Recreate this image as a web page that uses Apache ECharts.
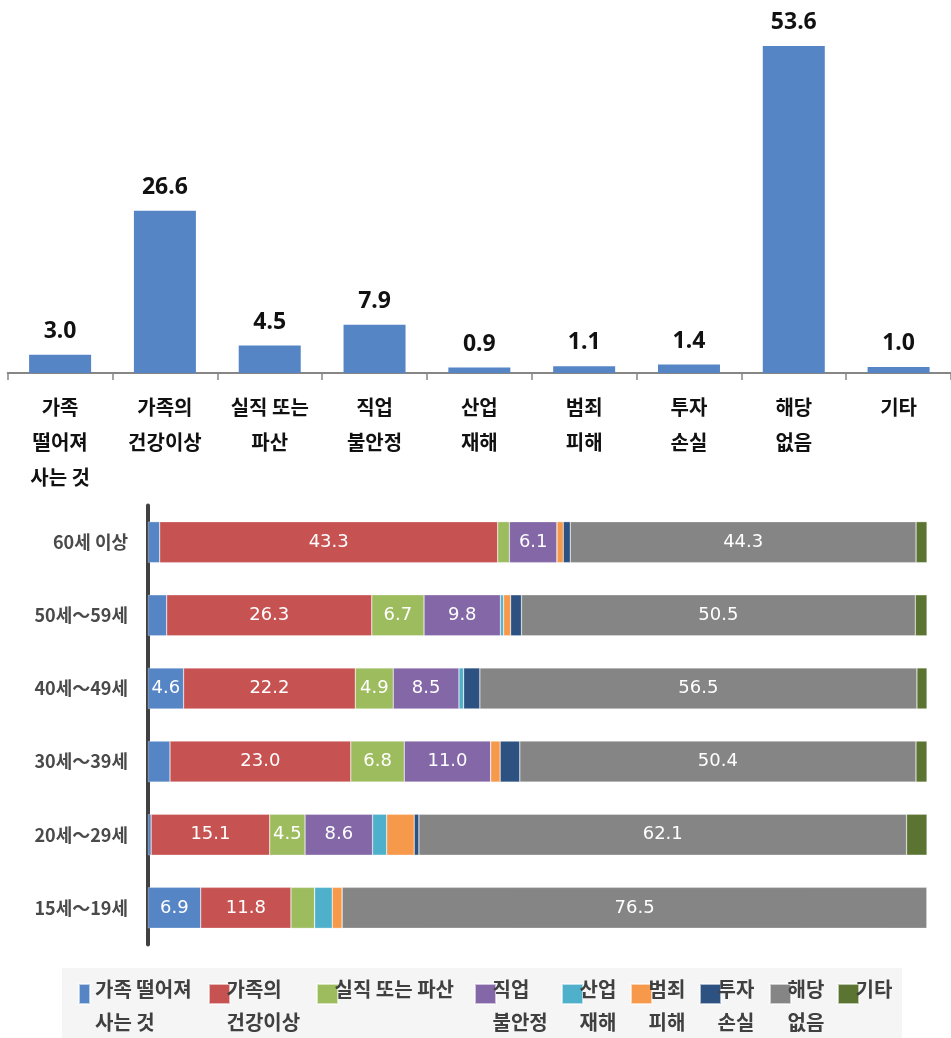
<!DOCTYPE html>
<html><head><meta charset="utf-8">
<script src="https://cdn.jsdelivr.net/npm/echarts@6/dist/echarts.min.js"></script>
<style>html,body{margin:0;padding:0;background:#fff}#c{width:951px;height:1038px}</style>
</head><body><div id="c"></div>
<script>
// ---- top chart data ----
const topCategories = ['가족\n떨어져\n사는 것','가족의\n건강이상','실직 또는\n파산','직업\n불안정','산업\n재해','범죄\n피해','투자\n손실','해당\n없음','기타'];
const topValues = [3.0, 26.6, 4.5, 7.9, 0.9, 1.1, 1.4, 53.6, 1.0];

// ---- bottom chart data (rows top to bottom) ----
const ageGroups = ['60세 이상','50세～59세','40세～49세','30세～39세','20세～29세','15세～19세'];
const seriesNames = ['가족 떨어져 사는 것','가족의 건강이상','실직 또는 파산','직업 불안정','산업 재해','범죄 피해','투자 손실','해당 없음','기타'];
const legendLines = [['가족 떨어져','사는 것'],['가족의','건강이상'],['실직 또는 파산',''],['직업','불안정'],['산업','재해'],['범죄','피해'],['투자','손실'],['해당','없음'],['기타','']];
const familyApart   = [1.5, 2.4, 4.6, 2.8, 0.4, 6.9];
const familyHealth  = [43.3, 26.3, 22.2, 23.0, 15.1, 11.8];
const jobLoss       = [1.5, 6.7, 4.9, 6.8, 4.5, 3.1];
const jobInsecurity = [6.1, 9.8, 8.5, 11.0, 8.6, 0];
const industrial    = [0, 0.4, 0.6, 0, 1.8, 2.3];
const crime         = [0.8, 0.9, 0, 1.2, 3.5, 1.3];
const investment    = [0.9, 1.4, 2.1, 2.5, 0.6, 0];
const noneApply     = [44.3, 50.5, 56.5, 50.4, 62.1, 76.5];
const other         = [1.4, 1.5, 1.3, 1.4, 2.6, 0];

const rawSeries = [familyApart, familyHealth, jobLoss, jobInsecurity, industrial, crime, investment, noneApply, other];
const colors = ['#5585c5','#c65351','#9dbc5e','#8467a7','#4eb0ca','#f7994b','#2d5282','#858585','#5b7431'];
const legendIconLeft = [78, 208, 316, 474, 561, 630, 699, 769, 837];
const legendIconWidth = [11, 21, 21, 21, 21, 21, 21, 21, 21];

// 100% stacked: share of each row total
const rowTotals = ageGroups.map((_, i) => rawSeries.reduce((s, arr) => s + arr[i], 0));

const KR = '"Noto Sans CJK KR", sans-serif';

const series = [{
  type: 'bar', xAxisIndex: 0, yAxisIndex: 0, data: topValues, barWidth: 62,
  itemStyle: { color: '#5585c5' },
  label: { show: true, position: 'top', distance: 12, fontFamily: '"Noto Sans", sans-serif', fontSize: 23, fontWeight: 'bold', color: '#111',
    formatter: p => p.value.toFixed(1) }
}];
rawSeries.forEach((arr, k) => {
  series.push({
    type: 'bar', name: seriesNames[k], xAxisIndex: 1, yAxisIndex: 1, stack: 'age', barWidth: 41,
    data: arr.map((v, i) => v / rowTotals[i] * 100),
    itemStyle: { color: colors[k], borderColor: 'rgba(255,255,255,0.6)', borderWidth: 0.5 },
    label: { show: true, position: 'inside', color: '#fff', fontSize: 18, fontFamily: '"DejaVu Sans", sans-serif',
      formatter: p => arr[p.dataIndex] >= 4.5 ? arr[p.dataIndex].toFixed(1) : '' }
  });
});

const legends = seriesNames.map((n, k) => ({
  data: [n], left: legendIconLeft[k], top: 960.5, padding: 0, selectedMode: false,
  itemWidth: legendIconWidth[k], itemHeight: 20, icon: 'rect',
  formatter: () => '{s| }\n{a|' + legendLines[k][0] + '}\n{a|' + (legendLines[k][1] || ' ') + '}',
  textStyle: {
    rich: {
      s: { fontSize: 1, lineHeight: 23 },
      a: { fontFamily: KR, fontSize: 20, fontWeight: 'bold', color: '#404040', lineHeight: 33,
           padding: [0, 0, 0, k === 0 ? 0 : -8.5] }
    }
  }
}));

const chart = echarts.init(document.getElementById('c'), null, { renderer: 'canvas' });
chart.setOption({
  animation: false,
  color: colors,
  graphic: [{ type: 'rect', shape: { x: 62, y: 968, width: 840, height: 70 }, style: { fill: '#f5f5f5' }, z: -10 }],
  legend: legends,
  grid: [
    { left: 7.7, top: 7, width: 945, height: 366 },
    { left: 148, top: 505.6, width: 779, height: 438.8 }
  ],
  xAxis: [
    { type: 'category', gridIndex: 0, data: topCategories,
      axisLine: { lineStyle: { color: '#868686', width: 2 } },
      axisTick: { show: true, length: 7, lineStyle: { color: '#868686', width: 1.5 } },
      axisLabel: { interval: 0, fontFamily: KR, fontSize: 20, fontWeight: 'bold', color: '#111', lineHeight: 35, margin: 17 } },
    { type: 'value', gridIndex: 1, min: 0, max: 100, show: false }
  ],
  yAxis: [
    { type: 'value', gridIndex: 0, min: 0, max: 60, show: false },
    { type: 'category', gridIndex: 1, data: ageGroups, inverse: true, offset: 2,
      axisLine: { lineStyle: { color: '#404040', width: 4 } }, axisTick: { show: false },
      axisLabel: { fontFamily: KR, fontSize: 18, fontWeight: 'bold', color: '#4a4a4a', margin: 18 } }
  ],
  series: series
});
</script></body></html>
